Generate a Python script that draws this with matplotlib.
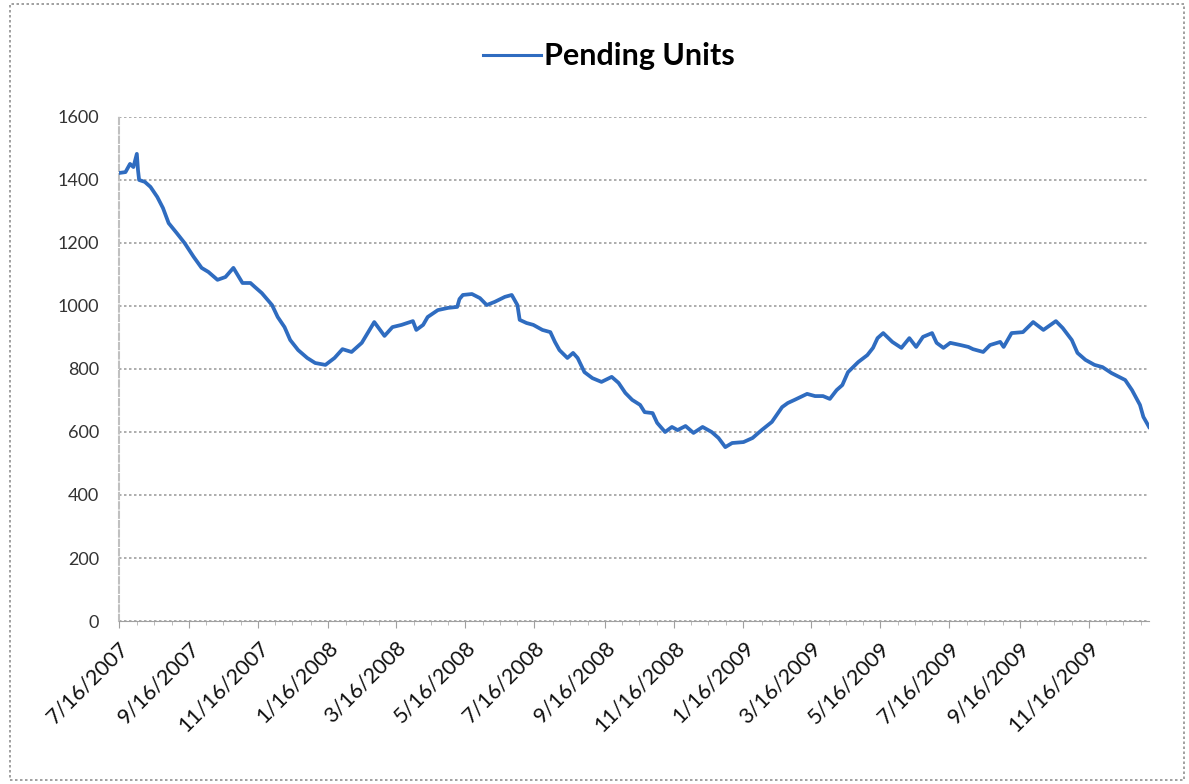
import pandas as pd
import matplotlib.pyplot as plt
import matplotlib.dates as mdates
from matplotlib.patches import Rectangle

plt.rcParams['font.family'] = ['Lato', 'DejaVu Sans']

# values
dates = [
    "2007-07-16", "2007-07-22", "2007-07-26", "2007-07-29", "2007-08-01", "2007-08-02",
    "2007-08-03", "2007-08-08", "2007-08-13", "2007-08-19", "2007-08-24", "2007-08-29",
    "2007-09-05", "2007-09-12", "2007-09-20", "2007-09-27", "2007-10-03", "2007-10-11",
    "2007-10-18", "2007-10-25", "2007-11-02", "2007-11-09", "2007-11-13", "2007-11-19",
    "2007-11-28", "2007-12-03", "2007-12-09", "2007-12-14", "2007-12-21", "2007-12-29",
    "2008-01-05", "2008-01-14", "2008-01-22", "2008-01-29", "2008-02-06", "2008-02-15",
    "2008-02-26", "2008-03-06", "2008-03-13", "2008-03-21", "2008-03-31", "2008-04-03",
    "2008-04-09", "2008-04-13", "2008-04-22", "2008-05-01", "2008-05-09", "2008-05-11",
    "2008-05-14", "2008-05-22", "2008-05-29", "2008-06-04", "2008-06-11", "2008-06-20",
    "2008-06-26", "2008-07-01", "2008-07-03", "2008-07-09", "2008-07-15", "2008-07-23",
    "2008-07-30", "2008-08-03", "2008-08-07", "2008-08-14", "2008-08-19", "2008-08-23",
    "2008-08-29", "2008-09-05", "2008-09-13", "2008-09-22", "2008-09-28", "2008-10-04",
    "2008-10-10", "2008-10-17", "2008-10-21", "2008-10-28", "2008-11-01", "2008-11-08",
    "2008-11-14", "2008-11-19", "2008-11-26", "2008-12-03", "2008-12-11", "2008-12-19",
    "2008-12-25", "2008-12-31", "2009-01-06", "2009-01-16", "2009-01-24", "2009-02-01",
    "2009-02-10", "2009-02-19", "2009-02-24", "2009-03-02", "2009-03-13", "2009-03-20",
    "2009-03-27", "2009-04-02", "2009-04-08", "2009-04-13", "2009-04-18", "2009-04-27",
    "2009-05-05", "2009-05-10", "2009-05-14", "2009-05-19", "2009-05-27", "2009-06-04",
    "2009-06-11", "2009-06-17", "2009-06-23", "2009-07-01", "2009-07-05", "2009-07-11",
    "2009-07-17", "2009-07-26", "2009-08-02", "2009-08-06", "2009-08-15", "2009-08-21",
    "2009-08-30", "2009-09-02", "2009-09-09", "2009-09-19", "2009-09-28", "2009-10-07",
    "2009-10-18", "2009-10-24", "2009-11-01", "2009-11-06", "2009-11-13", "2009-11-21",
    "2009-11-28", "2009-12-06", "2009-12-18", "2009-12-24", "2009-12-31", "2010-01-03",
    "2010-01-08",
]
pending_units = [
    1422, 1425, 1451, 1441, 1483, 1432,
    1400, 1394, 1378, 1346, 1311, 1263,
    1232, 1200, 1156, 1121, 1108, 1083,
    1092, 1121, 1073, 1073, 1060, 1041,
    1003, 965, 933, 892, 860, 835,
    819, 813, 835, 863, 854, 883,
    949, 905, 933, 940, 952, 924,
    940, 965, 987, 994, 997, 1022,
    1035, 1038, 1025, 1003, 1013, 1029,
    1035, 1003, 956, 946, 940, 924,
    917, 886, 860, 835, 851, 835,
    790, 771, 759, 775, 756, 724,
    702, 686, 663, 660, 629, 600,
    616, 606, 619, 597, 616, 600,
    581, 552, 565, 568, 581, 606,
    632, 679, 692, 702, 721, 714,
    714, 705, 733, 749, 790, 822,
    844, 867, 898, 914, 886, 867,
    898, 870, 902, 914, 883, 867,
    883, 876, 870, 863, 854, 876,
    886, 870, 914, 917, 949, 924,
    952, 930, 892, 851, 829, 813,
    806, 787, 765, 733, 686, 648,
    616,
]
tick_dates = [
    "2007-07-16", "2007-09-16", "2007-11-16", "2008-01-16", "2008-03-16",
    "2008-05-16", "2008-07-16", "2008-09-16", "2008-11-16", "2009-01-16",
    "2009-03-16", "2009-05-16", "2009-07-16", "2009-09-16", "2009-11-16",
]
y_ticks = [0, 200, 400, 600, 800, 1000, 1200, 1400, 1600]

x = pd.to_datetime(dates)
xt = pd.to_datetime(tick_dates)

fig = plt.figure(figsize=(11.89, 7.84), dpi=100)
ax = fig.add_axes([0.0998, 0.2079, 0.8666, 0.6429])

ax.plot(x, pending_units, color="#2f6cc0", lw=2.7, label="Pending Units", zorder=3)

ax.set_xlim(x[0], x[-1])
ax.set_ylim(0, 1600)
ax.set_yticks(y_ticks)
ax.set_xticks(xt)
ax.set_xticklabels([f"{d.month}/{d.day}/{d.year}" for d in xt],
                   rotation=45, ha="right", rotation_mode="anchor")
ax.xaxis.set_minor_locator(mdates.DayLocator(bymonthday=[1, 16]))

ax.grid(axis="y", color="#a0a0a0", ls=(0, (1.5, 1.5)), lw=1.2)
ax.grid(axis="x", visible=False)
for side in ["top", "right"]:
    ax.spines[side].set_visible(False)
ax.spines["left"].set_color("#c0c0c0")
ax.spines["left"].set_linestyle((0, (3, 1.5)))
ax.spines["left"].set_linewidth(1.5)
ax.spines["bottom"].set_color("#a0a0a0")
ax.spines["bottom"].set_linestyle((0, (2, 1)))
ax.tick_params(axis="y", length=0, labelsize=13, colors="#333333", pad=14)
ax.tick_params(axis="x", which="major", length=5, color="#a0a0a0", direction="out", labelsize=15.5, pad=7)
ax.tick_params(axis="x", which="minor", length=3, color="#b0b0b0", direction="out")
for lab in ax.get_xticklabels():
    lab.set_color("#111111")

leg = fig.legend(loc="center", bbox_to_anchor=(0.512, 0.928), frameon=False,
                 prop=dict(size=22, weight="bold"), handlelength=1.9, handletextpad=0.08)
leg.get_lines()[0].set_linewidth(2.2)

fig.patches.append(Rectangle((0.008, 0.005), 0.988, 0.99, transform=fig.transFigure,
                             fill=False, ec="#909090", ls=(0, (1.5, 1.5)), lw=1.2))

fig.savefig("out.png", dpi=100)
